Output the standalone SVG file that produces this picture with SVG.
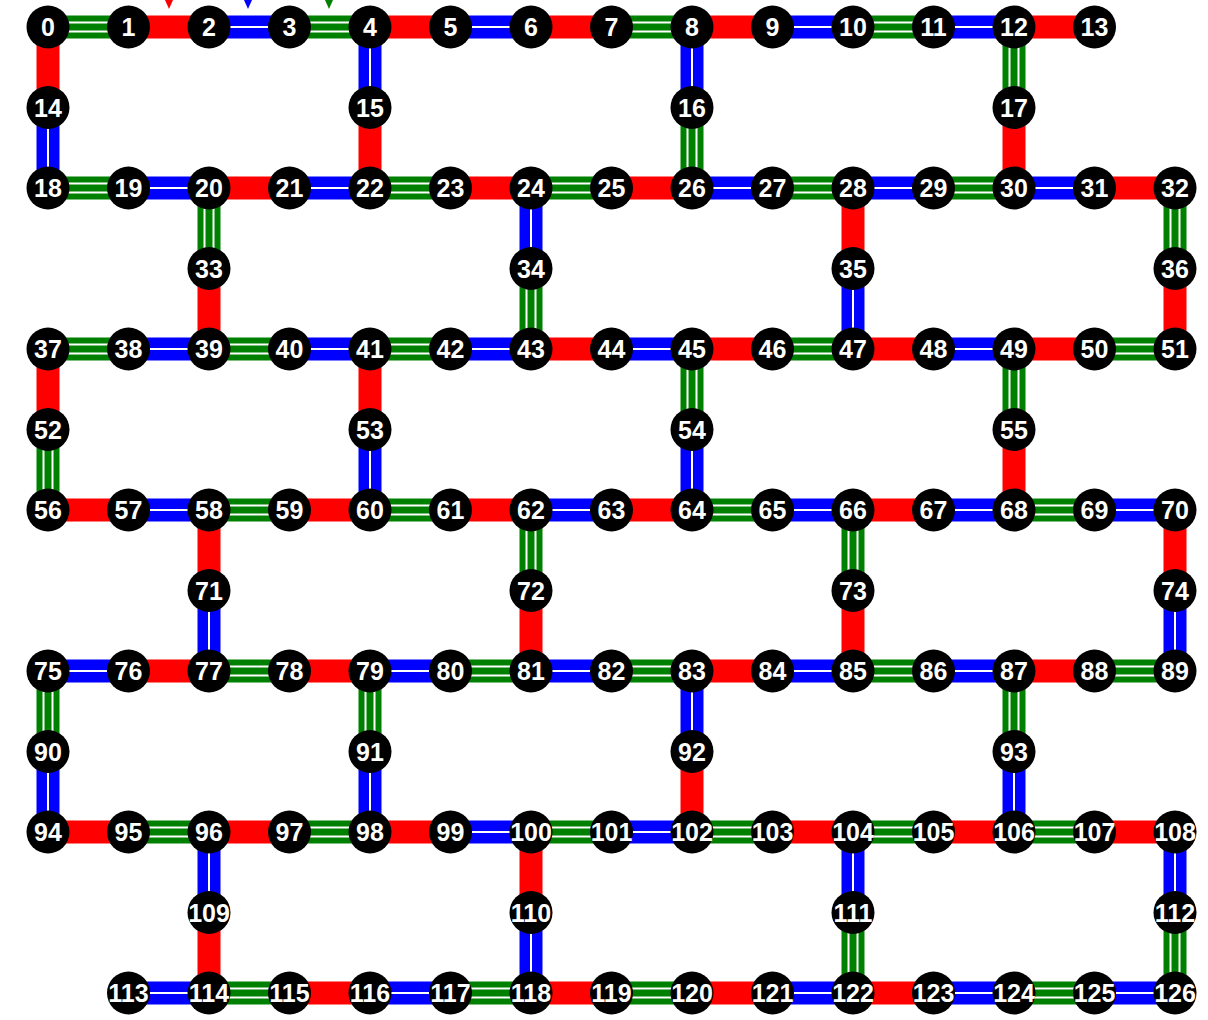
<svg xmlns="http://www.w3.org/2000/svg" xmlns:xlink="http://www.w3.org/1999/xlink" width="1208" height="1020" viewBox="0 0 1208 1020">
<style>
.n circle{fill:#000}
.n text{fill:#fff;font-family:"Liberation Sans",Arial,Helvetica,sans-serif;font-weight:bold;font-size:25px;text-anchor:middle}
</style>
<defs>
<g id="hr"><path d="M0 0H80.5" stroke="#ff0000" stroke-width="23"/></g>
<g id="hb"><path d="M0 0H80.5" stroke="#0000ff" stroke-width="23"/><path d="M0 0H80.5" stroke="#ffffff" stroke-width="2"/></g>
<g id="hg"><path d="M0 0H80.5" stroke="#008000" stroke-width="23"/><path d="M0 0H80.5" stroke="#ffffff" stroke-width="11"/><path d="M0 0H80.5" stroke="#008000" stroke-width="7"/></g>
<g id="vr"><path d="M0 0V80.5" stroke="#ff0000" stroke-width="23"/></g>
<g id="vb"><path d="M0 0V80.5" stroke="#0000ff" stroke-width="23"/><path d="M0 0V80.5" stroke="#ffffff" stroke-width="2"/></g>
<g id="vg"><path d="M0 0V80.5" stroke="#008000" stroke-width="23"/><path d="M0 0V80.5" stroke="#ffffff" stroke-width="11"/><path d="M0 0V80.5" stroke="#008000" stroke-width="7"/></g>
</defs>
<rect width="1208" height="1020" fill="#fff"/>
<g id="connectors">
<polygon points="165,0 173,0 169,9" fill="#ff0000"/>
<polygon points="244,0 252,0 248,9" fill="#0000ff"/>
<polygon points="325,0 333,0 329,9" fill="#008000"/>
<!-- row 0 -->
<use href="#hg" x="48" y="27"/><use href="#hr" x="128.5" y="27"/><use href="#hb" x="209" y="27"/><use href="#hg" x="289.5" y="27"/><use href="#hr" x="370" y="27"/><use href="#hb" x="450.5" y="27"/><use href="#hr" x="531" y="27"/><use href="#hg" x="611.5" y="27"/><use href="#hr" x="692" y="27"/><use href="#hb" x="772.5" y="27"/><use href="#hg" x="853" y="27"/><use href="#hb" x="933.5" y="27"/><use href="#hr" x="1014" y="27"/>
<!-- row 2 -->
<use href="#hg" x="48" y="188"/><use href="#hb" x="128.5" y="188"/><use href="#hr" x="209" y="188"/><use href="#hb" x="289.5" y="188"/><use href="#hg" x="370" y="188"/><use href="#hr" x="450.5" y="188"/><use href="#hg" x="531" y="188"/><use href="#hr" x="611.5" y="188"/><use href="#hb" x="692" y="188"/><use href="#hg" x="772.5" y="188"/><use href="#hb" x="853" y="188"/><use href="#hg" x="933.5" y="188"/><use href="#hb" x="1014" y="188"/><use href="#hr" x="1094.5" y="188"/>
<!-- row 4 -->
<use href="#hg" x="48" y="349"/><use href="#hb" x="128.5" y="349"/><use href="#hg" x="209" y="349"/><use href="#hb" x="289.5" y="349"/><use href="#hg" x="370" y="349"/><use href="#hb" x="450.5" y="349"/><use href="#hr" x="531" y="349"/><use href="#hb" x="611.5" y="349"/><use href="#hr" x="692" y="349"/><use href="#hg" x="772.5" y="349"/><use href="#hr" x="853" y="349"/><use href="#hb" x="933.5" y="349"/><use href="#hr" x="1014" y="349"/><use href="#hg" x="1094.5" y="349"/>
<!-- row 6 -->
<use href="#hr" x="48" y="510"/><use href="#hb" x="128.5" y="510"/><use href="#hg" x="209" y="510"/><use href="#hr" x="289.5" y="510"/><use href="#hg" x="370" y="510"/><use href="#hr" x="450.5" y="510"/><use href="#hb" x="531" y="510"/><use href="#hr" x="611.5" y="510"/><use href="#hg" x="692" y="510"/><use href="#hb" x="772.5" y="510"/><use href="#hr" x="853" y="510"/><use href="#hb" x="933.5" y="510"/><use href="#hg" x="1014" y="510"/><use href="#hb" x="1094.5" y="510"/>
<!-- row 8 -->
<use href="#hb" x="48" y="671"/><use href="#hr" x="128.5" y="671"/><use href="#hg" x="209" y="671"/><use href="#hr" x="289.5" y="671"/><use href="#hb" x="370" y="671"/><use href="#hg" x="450.5" y="671"/><use href="#hb" x="531" y="671"/><use href="#hg" x="611.5" y="671"/><use href="#hr" x="692" y="671"/><use href="#hb" x="772.5" y="671"/><use href="#hg" x="853" y="671"/><use href="#hb" x="933.5" y="671"/><use href="#hr" x="1014" y="671"/><use href="#hg" x="1094.5" y="671"/>
<!-- row 10 -->
<use href="#hr" x="48" y="832"/><use href="#hg" x="128.5" y="832"/><use href="#hr" x="209" y="832"/><use href="#hg" x="289.5" y="832"/><use href="#hr" x="370" y="832"/><use href="#hb" x="450.5" y="832"/><use href="#hg" x="531" y="832"/><use href="#hb" x="611.5" y="832"/><use href="#hg" x="692" y="832"/><use href="#hr" x="772.5" y="832"/><use href="#hg" x="853" y="832"/><use href="#hr" x="933.5" y="832"/><use href="#hg" x="1014" y="832"/><use href="#hr" x="1094.5" y="832"/>
<!-- row 12 -->
<use href="#hb" x="128.5" y="993"/><use href="#hg" x="209" y="993"/><use href="#hr" x="289.5" y="993"/><use href="#hb" x="370" y="993"/><use href="#hg" x="450.5" y="993"/><use href="#hr" x="531" y="993"/><use href="#hg" x="611.5" y="993"/><use href="#hr" x="692" y="993"/><use href="#hb" x="772.5" y="993"/><use href="#hr" x="853" y="993"/><use href="#hb" x="933.5" y="993"/><use href="#hg" x="1014" y="993"/><use href="#hb" x="1094.5" y="993"/>
<!-- verticals -->
<use href="#vr" x="48" y="27"/><use href="#vb" x="370" y="27"/><use href="#vb" x="692" y="27"/><use href="#vg" x="1014" y="27"/>
<use href="#vb" x="48" y="107.5"/><use href="#vr" x="370" y="107.5"/><use href="#vg" x="692" y="107.5"/><use href="#vr" x="1014" y="107.5"/>
<use href="#vg" x="209" y="188"/><use href="#vb" x="531" y="188"/><use href="#vr" x="853" y="188"/><use href="#vg" x="1175" y="188"/>
<use href="#vr" x="209" y="268.5"/><use href="#vg" x="531" y="268.5"/><use href="#vb" x="853" y="268.5"/><use href="#vr" x="1175" y="268.5"/>
<use href="#vr" x="48" y="349"/><use href="#vr" x="370" y="349"/><use href="#vg" x="692" y="349"/><use href="#vg" x="1014" y="349"/>
<use href="#vg" x="48" y="429.5"/><use href="#vb" x="370" y="429.5"/><use href="#vb" x="692" y="429.5"/><use href="#vr" x="1014" y="429.5"/>
<use href="#vr" x="209" y="510"/><use href="#vg" x="531" y="510"/><use href="#vg" x="853" y="510"/><use href="#vr" x="1175" y="510"/>
<use href="#vb" x="209" y="590.5"/><use href="#vr" x="531" y="590.5"/><use href="#vr" x="853" y="590.5"/><use href="#vb" x="1175" y="590.5"/>
<use href="#vg" x="48" y="671"/><use href="#vg" x="370" y="671"/><use href="#vb" x="692" y="671"/><use href="#vg" x="1014" y="671"/>
<use href="#vb" x="48" y="751.5"/><use href="#vb" x="370" y="751.5"/><use href="#vr" x="692" y="751.5"/><use href="#vb" x="1014" y="751.5"/>
<use href="#vb" x="209" y="832"/><use href="#vr" x="531" y="832"/><use href="#vb" x="853" y="832"/><use href="#vb" x="1175" y="832"/>
<use href="#vr" x="209" y="912.5"/><use href="#vb" x="531" y="912.5"/><use href="#vg" x="853" y="912.5"/><use href="#vg" x="1175" y="912.5"/>
</g>
<g id="nodes">
<g id="n0" class="n"><circle cx="48" cy="27" r="21.5"/><text x="48" y="36">0</text></g>
<g id="n1" class="n"><circle cx="128.5" cy="27" r="21.5"/><text x="128.5" y="36">1</text></g>
<g id="n2" class="n"><circle cx="209" cy="27" r="21.5"/><text x="209" y="36">2</text></g>
<g id="n3" class="n"><circle cx="289.5" cy="27" r="21.5"/><text x="289.5" y="36">3</text></g>
<g id="n4" class="n"><circle cx="370" cy="27" r="21.5"/><text x="370" y="36">4</text></g>
<g id="n5" class="n"><circle cx="450.5" cy="27" r="21.5"/><text x="450.5" y="36">5</text></g>
<g id="n6" class="n"><circle cx="531" cy="27" r="21.5"/><text x="531" y="36">6</text></g>
<g id="n7" class="n"><circle cx="611.5" cy="27" r="21.5"/><text x="611.5" y="36">7</text></g>
<g id="n8" class="n"><circle cx="692" cy="27" r="21.5"/><text x="692" y="36">8</text></g>
<g id="n9" class="n"><circle cx="772.5" cy="27" r="21.5"/><text x="772.5" y="36">9</text></g>
<g id="n10" class="n"><circle cx="853" cy="27" r="21.5"/><text x="853" y="36">10</text></g>
<g id="n11" class="n"><circle cx="933.5" cy="27" r="21.5"/><text x="933.5" y="36">11</text></g>
<g id="n12" class="n"><circle cx="1014" cy="27" r="21.5"/><text x="1014" y="36">12</text></g>
<g id="n13" class="n"><circle cx="1094.5" cy="27" r="21.5"/><text x="1094.5" y="36">13</text></g>
<g id="n14" class="n"><circle cx="48" cy="107.5" r="21.5"/><text x="48" y="116.5">14</text></g>
<g id="n15" class="n"><circle cx="370" cy="107.5" r="21.5"/><text x="370" y="116.5">15</text></g>
<g id="n16" class="n"><circle cx="692" cy="107.5" r="21.5"/><text x="692" y="116.5">16</text></g>
<g id="n17" class="n"><circle cx="1014" cy="107.5" r="21.5"/><text x="1014" y="116.5">17</text></g>
<g id="n18" class="n"><circle cx="48" cy="188" r="21.5"/><text x="48" y="197">18</text></g>
<g id="n19" class="n"><circle cx="128.5" cy="188" r="21.5"/><text x="128.5" y="197">19</text></g>
<g id="n20" class="n"><circle cx="209" cy="188" r="21.5"/><text x="209" y="197">20</text></g>
<g id="n21" class="n"><circle cx="289.5" cy="188" r="21.5"/><text x="289.5" y="197">21</text></g>
<g id="n22" class="n"><circle cx="370" cy="188" r="21.5"/><text x="370" y="197">22</text></g>
<g id="n23" class="n"><circle cx="450.5" cy="188" r="21.5"/><text x="450.5" y="197">23</text></g>
<g id="n24" class="n"><circle cx="531" cy="188" r="21.5"/><text x="531" y="197">24</text></g>
<g id="n25" class="n"><circle cx="611.5" cy="188" r="21.5"/><text x="611.5" y="197">25</text></g>
<g id="n26" class="n"><circle cx="692" cy="188" r="21.5"/><text x="692" y="197">26</text></g>
<g id="n27" class="n"><circle cx="772.5" cy="188" r="21.5"/><text x="772.5" y="197">27</text></g>
<g id="n28" class="n"><circle cx="853" cy="188" r="21.5"/><text x="853" y="197">28</text></g>
<g id="n29" class="n"><circle cx="933.5" cy="188" r="21.5"/><text x="933.5" y="197">29</text></g>
<g id="n30" class="n"><circle cx="1014" cy="188" r="21.5"/><text x="1014" y="197">30</text></g>
<g id="n31" class="n"><circle cx="1094.5" cy="188" r="21.5"/><text x="1094.5" y="197">31</text></g>
<g id="n32" class="n"><circle cx="1175" cy="188" r="21.5"/><text x="1175" y="197">32</text></g>
<g id="n33" class="n"><circle cx="209" cy="268.5" r="21.5"/><text x="209" y="277.5">33</text></g>
<g id="n34" class="n"><circle cx="531" cy="268.5" r="21.5"/><text x="531" y="277.5">34</text></g>
<g id="n35" class="n"><circle cx="853" cy="268.5" r="21.5"/><text x="853" y="277.5">35</text></g>
<g id="n36" class="n"><circle cx="1175" cy="268.5" r="21.5"/><text x="1175" y="277.5">36</text></g>
<g id="n37" class="n"><circle cx="48" cy="349" r="21.5"/><text x="48" y="358">37</text></g>
<g id="n38" class="n"><circle cx="128.5" cy="349" r="21.5"/><text x="128.5" y="358">38</text></g>
<g id="n39" class="n"><circle cx="209" cy="349" r="21.5"/><text x="209" y="358">39</text></g>
<g id="n40" class="n"><circle cx="289.5" cy="349" r="21.5"/><text x="289.5" y="358">40</text></g>
<g id="n41" class="n"><circle cx="370" cy="349" r="21.5"/><text x="370" y="358">41</text></g>
<g id="n42" class="n"><circle cx="450.5" cy="349" r="21.5"/><text x="450.5" y="358">42</text></g>
<g id="n43" class="n"><circle cx="531" cy="349" r="21.5"/><text x="531" y="358">43</text></g>
<g id="n44" class="n"><circle cx="611.5" cy="349" r="21.5"/><text x="611.5" y="358">44</text></g>
<g id="n45" class="n"><circle cx="692" cy="349" r="21.5"/><text x="692" y="358">45</text></g>
<g id="n46" class="n"><circle cx="772.5" cy="349" r="21.5"/><text x="772.5" y="358">46</text></g>
<g id="n47" class="n"><circle cx="853" cy="349" r="21.5"/><text x="853" y="358">47</text></g>
<g id="n48" class="n"><circle cx="933.5" cy="349" r="21.5"/><text x="933.5" y="358">48</text></g>
<g id="n49" class="n"><circle cx="1014" cy="349" r="21.5"/><text x="1014" y="358">49</text></g>
<g id="n50" class="n"><circle cx="1094.5" cy="349" r="21.5"/><text x="1094.5" y="358">50</text></g>
<g id="n51" class="n"><circle cx="1175" cy="349" r="21.5"/><text x="1175" y="358">51</text></g>
<g id="n52" class="n"><circle cx="48" cy="429.5" r="21.5"/><text x="48" y="438.5">52</text></g>
<g id="n53" class="n"><circle cx="370" cy="429.5" r="21.5"/><text x="370" y="438.5">53</text></g>
<g id="n54" class="n"><circle cx="692" cy="429.5" r="21.5"/><text x="692" y="438.5">54</text></g>
<g id="n55" class="n"><circle cx="1014" cy="429.5" r="21.5"/><text x="1014" y="438.5">55</text></g>
<g id="n56" class="n"><circle cx="48" cy="510" r="21.5"/><text x="48" y="519">56</text></g>
<g id="n57" class="n"><circle cx="128.5" cy="510" r="21.5"/><text x="128.5" y="519">57</text></g>
<g id="n58" class="n"><circle cx="209" cy="510" r="21.5"/><text x="209" y="519">58</text></g>
<g id="n59" class="n"><circle cx="289.5" cy="510" r="21.5"/><text x="289.5" y="519">59</text></g>
<g id="n60" class="n"><circle cx="370" cy="510" r="21.5"/><text x="370" y="519">60</text></g>
<g id="n61" class="n"><circle cx="450.5" cy="510" r="21.5"/><text x="450.5" y="519">61</text></g>
<g id="n62" class="n"><circle cx="531" cy="510" r="21.5"/><text x="531" y="519">62</text></g>
<g id="n63" class="n"><circle cx="611.5" cy="510" r="21.5"/><text x="611.5" y="519">63</text></g>
<g id="n64" class="n"><circle cx="692" cy="510" r="21.5"/><text x="692" y="519">64</text></g>
<g id="n65" class="n"><circle cx="772.5" cy="510" r="21.5"/><text x="772.5" y="519">65</text></g>
<g id="n66" class="n"><circle cx="853" cy="510" r="21.5"/><text x="853" y="519">66</text></g>
<g id="n67" class="n"><circle cx="933.5" cy="510" r="21.5"/><text x="933.5" y="519">67</text></g>
<g id="n68" class="n"><circle cx="1014" cy="510" r="21.5"/><text x="1014" y="519">68</text></g>
<g id="n69" class="n"><circle cx="1094.5" cy="510" r="21.5"/><text x="1094.5" y="519">69</text></g>
<g id="n70" class="n"><circle cx="1175" cy="510" r="21.5"/><text x="1175" y="519">70</text></g>
<g id="n71" class="n"><circle cx="209" cy="590.5" r="21.5"/><text x="209" y="599.5">71</text></g>
<g id="n72" class="n"><circle cx="531" cy="590.5" r="21.5"/><text x="531" y="599.5">72</text></g>
<g id="n73" class="n"><circle cx="853" cy="590.5" r="21.5"/><text x="853" y="599.5">73</text></g>
<g id="n74" class="n"><circle cx="1175" cy="590.5" r="21.5"/><text x="1175" y="599.5">74</text></g>
<g id="n75" class="n"><circle cx="48" cy="671" r="21.5"/><text x="48" y="680">75</text></g>
<g id="n76" class="n"><circle cx="128.5" cy="671" r="21.5"/><text x="128.5" y="680">76</text></g>
<g id="n77" class="n"><circle cx="209" cy="671" r="21.5"/><text x="209" y="680">77</text></g>
<g id="n78" class="n"><circle cx="289.5" cy="671" r="21.5"/><text x="289.5" y="680">78</text></g>
<g id="n79" class="n"><circle cx="370" cy="671" r="21.5"/><text x="370" y="680">79</text></g>
<g id="n80" class="n"><circle cx="450.5" cy="671" r="21.5"/><text x="450.5" y="680">80</text></g>
<g id="n81" class="n"><circle cx="531" cy="671" r="21.5"/><text x="531" y="680">81</text></g>
<g id="n82" class="n"><circle cx="611.5" cy="671" r="21.5"/><text x="611.5" y="680">82</text></g>
<g id="n83" class="n"><circle cx="692" cy="671" r="21.5"/><text x="692" y="680">83</text></g>
<g id="n84" class="n"><circle cx="772.5" cy="671" r="21.5"/><text x="772.5" y="680">84</text></g>
<g id="n85" class="n"><circle cx="853" cy="671" r="21.5"/><text x="853" y="680">85</text></g>
<g id="n86" class="n"><circle cx="933.5" cy="671" r="21.5"/><text x="933.5" y="680">86</text></g>
<g id="n87" class="n"><circle cx="1014" cy="671" r="21.5"/><text x="1014" y="680">87</text></g>
<g id="n88" class="n"><circle cx="1094.5" cy="671" r="21.5"/><text x="1094.5" y="680">88</text></g>
<g id="n89" class="n"><circle cx="1175" cy="671" r="21.5"/><text x="1175" y="680">89</text></g>
<g id="n90" class="n"><circle cx="48" cy="751.5" r="21.5"/><text x="48" y="760.5">90</text></g>
<g id="n91" class="n"><circle cx="370" cy="751.5" r="21.5"/><text x="370" y="760.5">91</text></g>
<g id="n92" class="n"><circle cx="692" cy="751.5" r="21.5"/><text x="692" y="760.5">92</text></g>
<g id="n93" class="n"><circle cx="1014" cy="751.5" r="21.5"/><text x="1014" y="760.5">93</text></g>
<g id="n94" class="n"><circle cx="48" cy="832" r="21.5"/><text x="48" y="841">94</text></g>
<g id="n95" class="n"><circle cx="128.5" cy="832" r="21.5"/><text x="128.5" y="841">95</text></g>
<g id="n96" class="n"><circle cx="209" cy="832" r="21.5"/><text x="209" y="841">96</text></g>
<g id="n97" class="n"><circle cx="289.5" cy="832" r="21.5"/><text x="289.5" y="841">97</text></g>
<g id="n98" class="n"><circle cx="370" cy="832" r="21.5"/><text x="370" y="841">98</text></g>
<g id="n99" class="n"><circle cx="450.5" cy="832" r="21.5"/><text x="450.5" y="841">99</text></g>
<g id="n100" class="n"><circle cx="531" cy="832" r="21.5"/><text x="531" y="841">100</text></g>
<g id="n101" class="n"><circle cx="611.5" cy="832" r="21.5"/><text x="611.5" y="841">101</text></g>
<g id="n102" class="n"><circle cx="692" cy="832" r="21.5"/><text x="692" y="841">102</text></g>
<g id="n103" class="n"><circle cx="772.5" cy="832" r="21.5"/><text x="772.5" y="841">103</text></g>
<g id="n104" class="n"><circle cx="853" cy="832" r="21.5"/><text x="853" y="841">104</text></g>
<g id="n105" class="n"><circle cx="933.5" cy="832" r="21.5"/><text x="933.5" y="841">105</text></g>
<g id="n106" class="n"><circle cx="1014" cy="832" r="21.5"/><text x="1014" y="841">106</text></g>
<g id="n107" class="n"><circle cx="1094.5" cy="832" r="21.5"/><text x="1094.5" y="841">107</text></g>
<g id="n108" class="n"><circle cx="1175" cy="832" r="21.5"/><text x="1175" y="841">108</text></g>
<g id="n109" class="n"><circle cx="209" cy="912.5" r="21.5"/><text x="209" y="921.5">109</text></g>
<g id="n110" class="n"><circle cx="531" cy="912.5" r="21.5"/><text x="531" y="921.5">110</text></g>
<g id="n111" class="n"><circle cx="853" cy="912.5" r="21.5"/><text x="853" y="921.5">111</text></g>
<g id="n112" class="n"><circle cx="1175" cy="912.5" r="21.5"/><text x="1175" y="921.5">112</text></g>
<g id="n113" class="n"><circle cx="128.5" cy="993" r="21.5"/><text x="128.5" y="1002">113</text></g>
<g id="n114" class="n"><circle cx="209" cy="993" r="21.5"/><text x="209" y="1002">114</text></g>
<g id="n115" class="n"><circle cx="289.5" cy="993" r="21.5"/><text x="289.5" y="1002">115</text></g>
<g id="n116" class="n"><circle cx="370" cy="993" r="21.5"/><text x="370" y="1002">116</text></g>
<g id="n117" class="n"><circle cx="450.5" cy="993" r="21.5"/><text x="450.5" y="1002">117</text></g>
<g id="n118" class="n"><circle cx="531" cy="993" r="21.5"/><text x="531" y="1002">118</text></g>
<g id="n119" class="n"><circle cx="611.5" cy="993" r="21.5"/><text x="611.5" y="1002">119</text></g>
<g id="n120" class="n"><circle cx="692" cy="993" r="21.5"/><text x="692" y="1002">120</text></g>
<g id="n121" class="n"><circle cx="772.5" cy="993" r="21.5"/><text x="772.5" y="1002">121</text></g>
<g id="n122" class="n"><circle cx="853" cy="993" r="21.5"/><text x="853" y="1002">122</text></g>
<g id="n123" class="n"><circle cx="933.5" cy="993" r="21.5"/><text x="933.5" y="1002">123</text></g>
<g id="n124" class="n"><circle cx="1014" cy="993" r="21.5"/><text x="1014" y="1002">124</text></g>
<g id="n125" class="n"><circle cx="1094.5" cy="993" r="21.5"/><text x="1094.5" y="1002">125</text></g>
<g id="n126" class="n"><circle cx="1175" cy="993" r="21.5"/><text x="1175" y="1002">126</text></g>
</g>
</svg>
